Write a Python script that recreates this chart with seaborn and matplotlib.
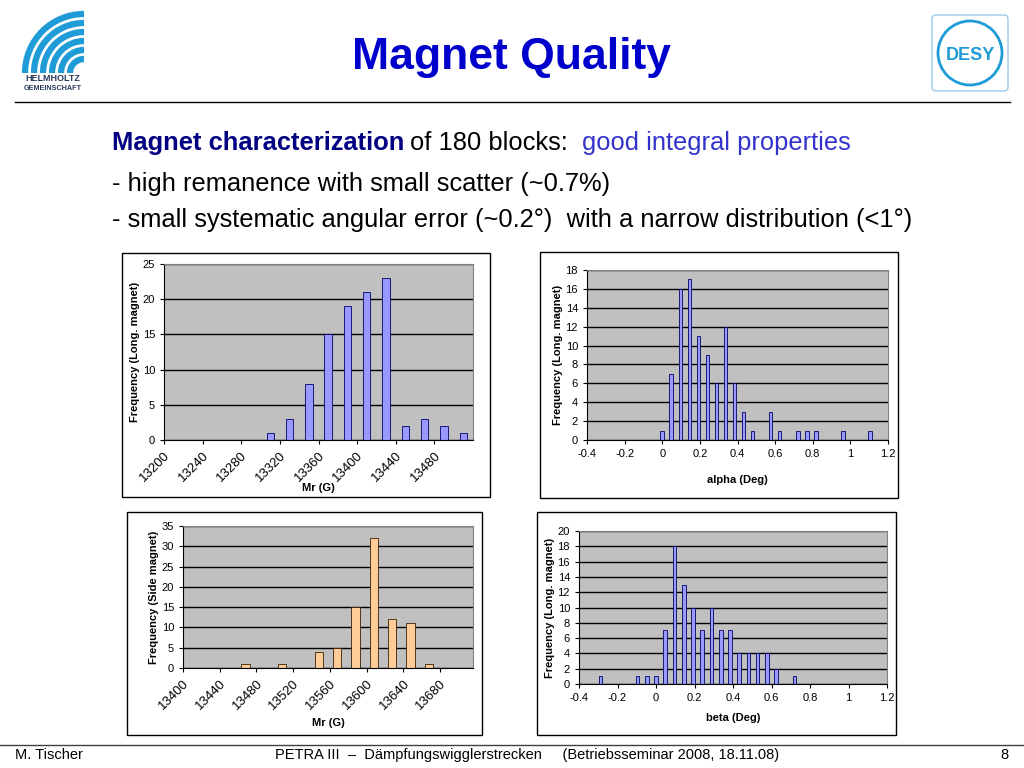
import matplotlib
matplotlib.use("Agg")
import matplotlib.pyplot as plt
import matplotlib.patches as mpatches
import seaborn as sns
import pandas as pd

plt.rcParams["font.family"] = "Liberation Sans"

# data
mr_long_x = [13310, 13330, 13350, 13370, 13390, 13410, 13430, 13450, 13470, 13490, 13510]
mr_long_y = [1, 3, 8, 15, 19, 21, 23, 2, 3, 2, 1]
alpha_x = [0, 0.048, 0.096, 0.144, 0.192, 0.24, 0.288, 0.336, 0.384, 0.432, 0.48,
           0.576, 0.624, 0.72, 0.768, 0.816, 0.96, 1.104]
alpha_y = [1, 7, 16, 17, 11, 9, 6, 12, 6, 3, 1, 3, 1, 1, 1, 1, 1, 1]
mr_side_x = [13468, 13508, 13548, 13568, 13588, 13608, 13628, 13648, 13668]
mr_side_y = [1, 1, 4, 5, 15, 32, 12, 11, 1]
beta_x = [-0.288, -0.096, -0.048, 0, 0.048, 0.096, 0.144, 0.192, 0.24, 0.288, 0.336,
          0.384, 0.432, 0.48, 0.528, 0.576, 0.624, 0.72]
beta_y = [1, 1, 1, 1, 7, 18, 13, 10, 7, 10, 7, 7, 4, 4, 4, 4, 2, 1]

BLUE = "#9999ff"
ORANGE = "#ffcc99"
W, H = 1024, 768

fig = plt.figure(figsize=(10.24, 7.68), dpi=100)
fig.patch.set_facecolor("white")


def box(x0, y0, x1, y1, **kw):
    # rectangle in pixel coords (top-left origin)
    r = mpatches.Rectangle((x0 / W, 1 - y1 / H), (x1 - x0) / W, (y1 - y0) / H,
                           transform=fig.transFigure, fill=False, **kw)
    fig.add_artist(r)


def panel(px, xs, ys, color, edge, xlim, xticks, ylim, yticks, xlabel, ylabel, width, rot,
          tlabels=None, label_y=None):
    x0, y0, x1, y1 = px
    ax = fig.add_axes([x0 / W, 1 - y1 / H, (x1 - x0) / W, (y1 - y0) / H])
    df = pd.DataFrame({"x": xs, "y": ys})
    sns.barplot(data=df, x="x", y="y", native_scale=True, width=width, color=color,
                edgecolor=edge, linewidth=0.6, saturation=1, errorbar=None, ax=ax)
    ax.set_facecolor("#c0c0c0")
    ax.set_xlim(*xlim)
    ax.set_ylim(*ylim)
    ax.set_yticks(yticks)
    ax.set_xticks(xticks)
    if tlabels is not None:
        ax.set_xticklabels(tlabels)
    ax.yaxis.grid(True, color="black", linewidth=1)
    ax.set_axisbelow(True)
    for s in ["top", "right"]:
        ax.spines[s].set_color("#808080")
    ax.tick_params(labelsize=8, length=3, direction="out")
    if rot:
        plt.setp(ax.get_xticklabels(), rotation=45, ha="right", rotation_mode="anchor", fontsize=9.5)
    ax.set_xlabel(xlabel, fontsize=8, fontweight="bold", va="center")
    ax.set_ylabel(ylabel, fontsize=8, fontweight="bold", labelpad=2)
    # x label position in pixels below the plot
    ax.xaxis.set_label_coords(0.5, -(label_y - y1) / (y1 - y0))
    return ax


panel((164, 264, 473, 440), mr_long_x, mr_long_y, BLUE, "#000066", (13200, 13520),
      list(range(13200, 13520, 40)), (0, 25), range(0, 26, 5),
      "Mr (G)", "Frequency (Long. magnet)", 0.38, True, label_y=488)
box(122, 253, 490, 497, linewidth=1, edgecolor="black")

a = [-0.4, -0.2, 0, 0.2, 0.4, 0.6, 0.8, 1, 1.2]
panel((587, 270, 888, 440), alpha_x, alpha_y, BLUE, "#000066", (-0.4, 1.2), a, (0, 18), range(0, 19, 2),
      "alpha (Deg)", "Frequency (Long. magnet)", 0.4, False, [f"{v:g}" for v in a], label_y=480)
box(540, 252, 898, 498, linewidth=1, edgecolor="black")

panel((183, 526, 473, 668), mr_side_x, mr_side_y, ORANGE, "#3a2000", (13400, 13716),
      list(range(13400, 13720, 40)), (0, 35), range(0, 36, 5),
      "Mr (G)", "Frequency (Side magnet)", 0.45, True, label_y=723)
box(127, 512, 482, 735, linewidth=1, edgecolor="black")

panel((579, 531, 887, 684), beta_x, beta_y, BLUE, "#000066", (-0.4, 1.2), a, (0, 20), range(0, 21, 2),
      "beta (Deg)", "Frequency (Long. magnet)", 0.4, False, [f"{v:g}" for v in a], label_y=718)
box(537, 512, 896, 735, linewidth=1, edgecolor="black")

# slide decoration
fig.text(512 / W, 1 - 57 / H, "Magnet Quality", ha="center", va="center",
         fontsize=32, fontweight="bold", color="#0000cc")
fig.add_artist(plt.Line2D([15 / W, 1010 / W], [1 - 102 / H] * 2, color="black", lw=1))
fig.add_artist(plt.Line2D([0, 1], [1 - 745 / H] * 2, color="#404040", lw=1))

FS = 18.4
y1 = 1 - 143 / H
fig.text(112 / W, y1, "Magnet characterization", fontsize=FS, fontweight="bold",
         color="#000080", va="center")
fig.text(410 / W, y1, "of 180 blocks:", fontsize=FS, color="black", va="center")
fig.text(582 / W, y1, "good integral properties", fontsize=FS, color="#3333cc", va="center")
fig.text(112 / W, 1 - 184 / H, "- high remanence with small scatter (~0.7%)", fontsize=FS, va="center")
fig.text(112 / W, 1 - 220 / H, "- small systematic angular error (~0.2°)  with a narrow distribution (<1°)",
         fontsize=FS, va="center")

fig.text(15 / W, 1 - 755 / H, "M. Tischer", fontsize=10.5, va="center")
fig.text(275 / W, 1 - 755 / H, "PETRA III  –  Dämpfungswigglerstrecken     (Betriebsseminar 2008, 18.11.08)",
         fontsize=10.5, va="center")
fig.text(1000 / W, 1 - 755 / H, "8", fontsize=10.5, va="center")

# Helmholtz logo (rough)
lax = fig.add_axes([18 / W, 1 - 95 / H, 70 / W, 88 / H])
lax.set_xlim(0, 70)
lax.set_ylim(0, 88)
lax.axis("off")
for r in range(14, 64, 9):
    lax.add_patch(mpatches.Arc((66, 22), 2 * r, 2 * r, theta1=90, theta2=180,
                               color="#1f9bd7", lw=4.5))
lax.text(35, 14, "HELMHOLTZ", ha="center", fontsize=6.5, fontweight="bold", color="#2a3a5a")
lax.text(35, 5, "GEMEINSCHAFT", ha="center", fontsize=5.2, fontweight="bold", color="#2a3a5a")

# DESY logo (rough)
dax = fig.add_axes([930 / W, 1 - 93 / H, 80 / W, 80 / H])
dax.set_xlim(0, 80)
dax.set_ylim(0, 80)
dax.axis("off")
dax.add_patch(mpatches.FancyBboxPatch((2, 2), 76, 76, boxstyle="round,pad=0,rounding_size=4",
                                      fill=False, ec="#9ec9e8", lw=1))
dax.add_patch(mpatches.Circle((40, 40), 32, fill=False, ec="#1f9bd7", lw=2))
dax.text(40, 38, "DESY", ha="center", va="center", fontsize=13, fontweight="bold", color="#1f9bd7")

fig.savefig("out.png", dpi=100)
